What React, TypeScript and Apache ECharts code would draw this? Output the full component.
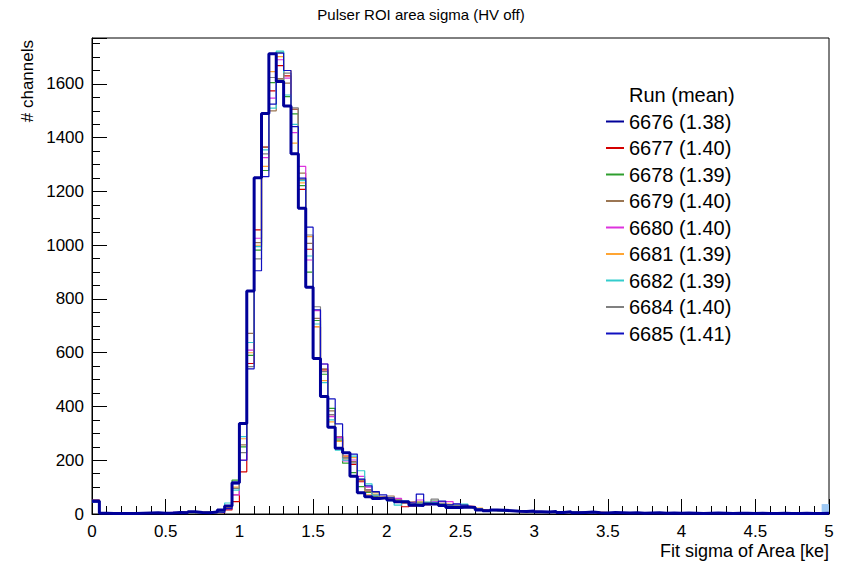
import React, { useEffect, useRef } from "react";
import * as echarts from "echarts";

// ---- data ----
const binWidth = 0.05;
const xMin = 0;
const xMax = 5;
const yMax = 1771;

const runs = ["6676", "6677", "6678", "6679", "6680", "6681", "6682", "6684", "6685"];
const means = ["1.38", "1.40", "1.39", "1.40", "1.40", "1.39", "1.39", "1.40", "1.41"];

const h6676 = [
  48, 3, 2, 2, 2, 2, 3, 4, 5, 3, 4, 6, 5, 8, 6, 5, 7,
  15, 30, 116, 337, 830, 1251, 1490, 1712, 1609, 1518, 1340, 1138, 844, 579, 437, 323, 245, 228, 140, 79, 64, 58, 60, 52,
  46, 46, 33, 32, 37, 37, 32, 24, 24, 26, 24, 15, 12, 15, 14, 12, 10, 9, 11, 8, 7, 9, 6, 8, 5, 6, 7, 5, 4, 6, 5, 4, 5, 3, 4, 5, 3, 4, 3, 4, 3, 2, 3, 4, 3, 2, 3, 3, 2, 3, 2, 2, 3, 2, 2, 3, 2, 2, 3,
];
const h6677 = [
  52, 2, 1, 3, 2, 4, 3, 3, 5, 4, 5, 4, 7, 6, 5, 8, 6,
  5, 15, 46, 157, 560, 1057, 1365, 1574, 1668, 1630, 1506, 1208, 985, 697, 536, 370, 288, 215, 185, 120, 90, 70, 60, 55,
  48, 27, 30, 40, 35, 38, 40, 33, 30, 28, 26, 16, 14, 13, 12, 11, 12, 9, 10, 9, 8, 7, 8, 6, 7, 5, 6, 6, 5, 4, 5, 5, 4, 3, 4, 4, 3, 3, 4, 3, 3, 2, 3, 2, 3, 3, 2, 2, 3, 2, 2, 3, 2, 2, 2, 3, 2, 2, 2,
];
const h6678 = [
  45, 3, 2, 2, 3, 2, 4, 3, 4, 5, 3, 5, 6, 5, 7, 6, 9,
  10, 30, 126, 250, 590, 982, 1278, 1605, 1718, 1553, 1489, 1222, 900, 720, 520, 393, 275, 189, 154, 102, 80, 65, 58, 52,
  50, 42, 38, 44, 40, 48, 35, 30, 32, 29, 25, 20, 12, 14, 11, 13, 10, 11, 9, 8, 9, 7, 6, 8, 6, 5, 7, 5, 5, 4, 4, 5, 3, 4, 4, 3, 4, 3, 3, 3, 2, 3, 3, 2, 3, 2, 3, 2, 2, 3, 2, 2, 2, 3, 2, 2, 2, 2, 3,
];
const h6679 = [
  50, 2, 3, 2, 2, 3, 2, 4, 3, 5, 4, 6, 5, 4, 6, 7, 6,
  8, 25, 71, 257, 672, 1010, 1365, 1500, 1620, 1603, 1506, 1268, 1007, 728, 540, 384, 288, 205, 195, 125, 83, 70, 62, 67,
  55, 44, 46, 38, 36, 40, 34, 32, 30, 35, 27, 18, 13, 12, 14, 10, 11, 10, 8, 9, 7, 8, 7, 6, 6, 7, 5, 5, 6, 4, 5, 4, 4, 4, 3, 4, 3, 4, 3, 3, 3, 3, 2, 3, 3, 2, 3, 2, 2, 2, 3, 2, 2, 3, 2, 2, 2, 3, 2,
];
const h6680 = [
  47, 2, 2, 3, 2, 2, 3, 3, 4, 4, 6, 5, 5, 7, 6, 6, 8,
  6, 20, 71, 201, 610, 1026, 1326, 1547, 1690, 1622, 1419, 1293, 945, 757, 558, 362, 285, 198, 201, 140, 100, 68, 60, 55,
  58, 42, 44, 52, 40, 46, 46, 46, 36, 30, 28, 17, 13, 12, 12, 11, 10, 9, 9, 8, 8, 7, 7, 6, 5, 6, 6, 5, 4, 5, 4, 4, 4, 3, 4, 3, 3, 3, 4, 3, 2, 3, 3, 2, 2, 3, 3, 2, 2, 2, 3, 2, 2, 2, 2, 3, 2, 2, 2,
];
const h6681 = [
  49, 3, 2, 2, 3, 3, 2, 3, 4, 3, 5, 5, 6, 5, 7, 5, 7,
  7, 22, 100, 280, 600, 1000, 1293, 1646, 1702, 1650, 1380, 1232, 1032, 697, 496, 343, 270, 213, 210, 128, 71, 74, 64, 58,
  50, 40, 40, 44, 42, 40, 38, 36, 30, 32, 28, 22, 14, 12, 13, 12, 10, 10, 9, 9, 8, 7, 7, 7, 6, 6, 5, 6, 5, 5, 4, 4, 5, 3, 4, 3, 4, 3, 3, 3, 3, 2, 3, 3, 2, 3, 2, 3, 2, 2, 3, 2, 2, 3, 2, 2, 3, 2, 2,
];
const h6682 = [
  46, 2, 3, 2, 2, 3, 3, 2, 4, 4, 4, 6, 5, 6, 5, 7, 8,
  10, 41, 89, 288, 638, 995, 1355, 1510, 1722, 1559, 1450, 1240, 960, 707, 489, 350, 238, 200, 215, 161, 112, 70, 58, 50,
  33, 48, 36, 40, 44, 42, 38, 34, 33, 37, 25, 19, 12, 13, 11, 12, 11, 9, 10, 8, 7, 8, 6, 7, 6, 5, 6, 5, 5, 5, 4, 4, 4, 4, 3, 3, 4, 3, 3, 3, 2, 3, 2, 3, 3, 2, 2, 3, 2, 2, 2, 3, 2, 2, 3, 2, 2, 2, 2,
];
const h6684 = [
  51, 3, 2, 3, 2, 2, 3, 4, 3, 4, 5, 4, 6, 5, 6, 8, 7,
  8, 28, 95, 228, 548, 949, 1340, 1624, 1615, 1640, 1511, 1245, 1038, 771, 530, 370, 280, 210, 190, 129, 90, 80, 62, 62,
  52, 45, 40, 42, 38, 55, 40, 35, 31, 30, 26, 18, 13, 14, 12, 11, 11, 10, 9, 8, 8, 8, 6, 6, 6, 6, 5, 5, 4, 5, 5, 4, 3, 4, 4, 3, 3, 4, 3, 3, 2, 3, 3, 3, 2, 2, 3, 2, 3, 2, 2, 2, 3, 2, 2, 2, 3, 2, 2,
];
const h6685 = [
  44, 2, 2, 2, 3, 2, 3, 3, 4, 4, 3, 5, 6, 6, 5, 6, 8,
  6, 20, 112, 200, 540, 905, 1255, 1525, 1715, 1650, 1441, 1250, 1067, 760, 558, 428, 335, 227, 223, 130, 105, 83, 71, 60,
  45, 42, 40, 74, 38, 36, 48, 34, 38, 33, 26, 18, 14, 13, 12, 12, 10, 10, 9, 8, 8, 7, 7, 6, 6, 5, 6, 5, 5, 4, 4, 4, 4, 3, 3, 4, 3, 3, 3, 3, 3, 2, 3, 2, 2, 3, 2, 2, 2, 3, 2, 2, 2, 2, 3, 2, 2, 2, 3,
];
const histograms = [h6676, h6677, h6678, h6679, h6680, h6681, h6682, h6684, h6685];

// extra filled last bin (light blue)
const lastBinLow = 4.95;
const lastBinValue = 37;

// ---- styles ----
const colors = ["#000099", "#d40000", "#2e9e2e", "#9b7653", "#dd33dd", "#ffa533", "#33cccc", "#808080", "#1010c0"];
const widths = [3, 1.2, 1.2, 1.2, 1.2, 1.2, 1.2, 1.2, 1.2];
const FONT = "Liberation Sans, Arial, Helvetica, sans-serif";

function toSteps(vals: number[]) {
  const pts: number[][] = vals.map((v, i) => [xMin + i * binWidth, v]);
  pts.push([xMin + vals.length * binWidth, vals[vals.length - 1]]);
  return pts;
}

export default function App() {
  const ref = useRef<HTMLDivElement>(null);
  useEffect(() => {
    if (!ref.current) return;
    const chart = echarts.init(ref.current, undefined, { renderer: "svg" });
    const names = runs.map((r, i) => `${r} (${means[i]})`);
    const lineSeries: any[] = histograms.map((h, i) => ({
      name: names[i],
      type: "line",
      step: "end",
      symbol: "none",
      data: toSteps(h),
      color: colors[i],
      lineStyle: { color: colors[i], width: widths[i] },
      z: i === 0 ? 10 : 3,
      clip: true,
    }));
    const overflow = {
      name: "last",
      type: "line",
      step: "end",
      symbol: "none",
      data: [
        [lastBinLow, lastBinValue],
        [lastBinLow + binWidth, lastBinValue],
      ],
      lineStyle: { width: 0 },
      areaStyle: { color: "#9fc9f4", opacity: 1 },
      z: 1,
    };
    chart.setOption({
      animation: false,
      backgroundColor: "#ffffff",
      grid: {
        left: 92,
        right: 13,
        top: 38,
        bottom: 48,
        show: true,
        borderColor: "#000",
        borderWidth: 1,
        backgroundColor: "transparent",
      },
      legend: {
        data: names,
        orient: "vertical",
        left: 606,
        top: 111.5,
        padding: 0,
        icon: "rect",
        itemWidth: 18,
        itemHeight: 2,
        itemGap: 6.5,
        selectedMode: false,
        textStyle: { fontFamily: FONT, fontSize: 20, lineHeight: 20, color: "#000" },
      },
      xAxis: {
        type: "value",
        min: xMin,
        max: xMax,
        interval: 0.5,
        axisLine: { show: true, lineStyle: { color: "#000", width: 1 } },
        axisTick: { show: true, inside: true, length: 15, lineStyle: { color: "#000", width: 1 } },
        minorTick: { show: true, splitNumber: 5, length: 8, lineStyle: { color: "#000", width: 1 } },
        splitLine: { show: false },
        axisLabel: { fontFamily: FONT, fontSize: 17, color: "#000", margin: 9 },
      },
      yAxis: {
        type: "value",
        min: 0,
        max: yMax,
        interval: 200,
        axisLine: { show: true, lineStyle: { color: "#000", width: 1 } },
        axisTick: { show: true, inside: true, length: 15, lineStyle: { color: "#000", width: 1 } },
        minorTick: { show: true, splitNumber: 4, length: 8, lineStyle: { color: "#000", width: 1 } },
        splitLine: { show: false },
        axisLabel: {
          fontFamily: FONT,
          fontSize: 17,
          color: "#000",
          margin: 8,
          showMaxLabel: false,
          formatter: (v: number) => (v % 200 === 0 ? String(v) : ""),
        },
      },
      graphic: [
        {
          type: "text",
          x: 421,
          y: 14,
          style: {
            text: "Pulser ROI area sigma (HV off)",
            fontFamily: FONT,
            fontSize: 15,
            fill: "#000",
            textAlign: "center",
            textVerticalAlign: "middle",
          },
        },
        {
          type: "text",
          x: 27,
          y: 40,
          rotation: Math.PI / 2,
          style: {
            text: "# channels",
            fontFamily: FONT,
            fontSize: 17,
            fill: "#000",
            textAlign: "right",
            textVerticalAlign: "middle",
          },
        },
        {
          type: "text",
          x: 829,
          y: 551,
          style: {
            text: "Fit sigma of Area [ke]",
            fontFamily: FONT,
            fontSize: 18,
            fill: "#000",
            textAlign: "right",
            textVerticalAlign: "middle",
          },
        },
        {
          type: "text",
          x: 629,
          y: 95,
          style: {
            text: "Run (mean)",
            fontFamily: FONT,
            fontSize: 20,
            fill: "#000",
            textAlign: "left",
            textVerticalAlign: "middle",
          },
        },
      ],
      series: [overflow, ...lineSeries.slice(1), lineSeries[0]],
    });
    return () => chart.dispose();
  }, []);
  return (
    <div
      ref={ref}
      style={{ position: "fixed", left: 0, top: 0, width: 842, height: 562, background: "#fff" }}
    />
  );
}
